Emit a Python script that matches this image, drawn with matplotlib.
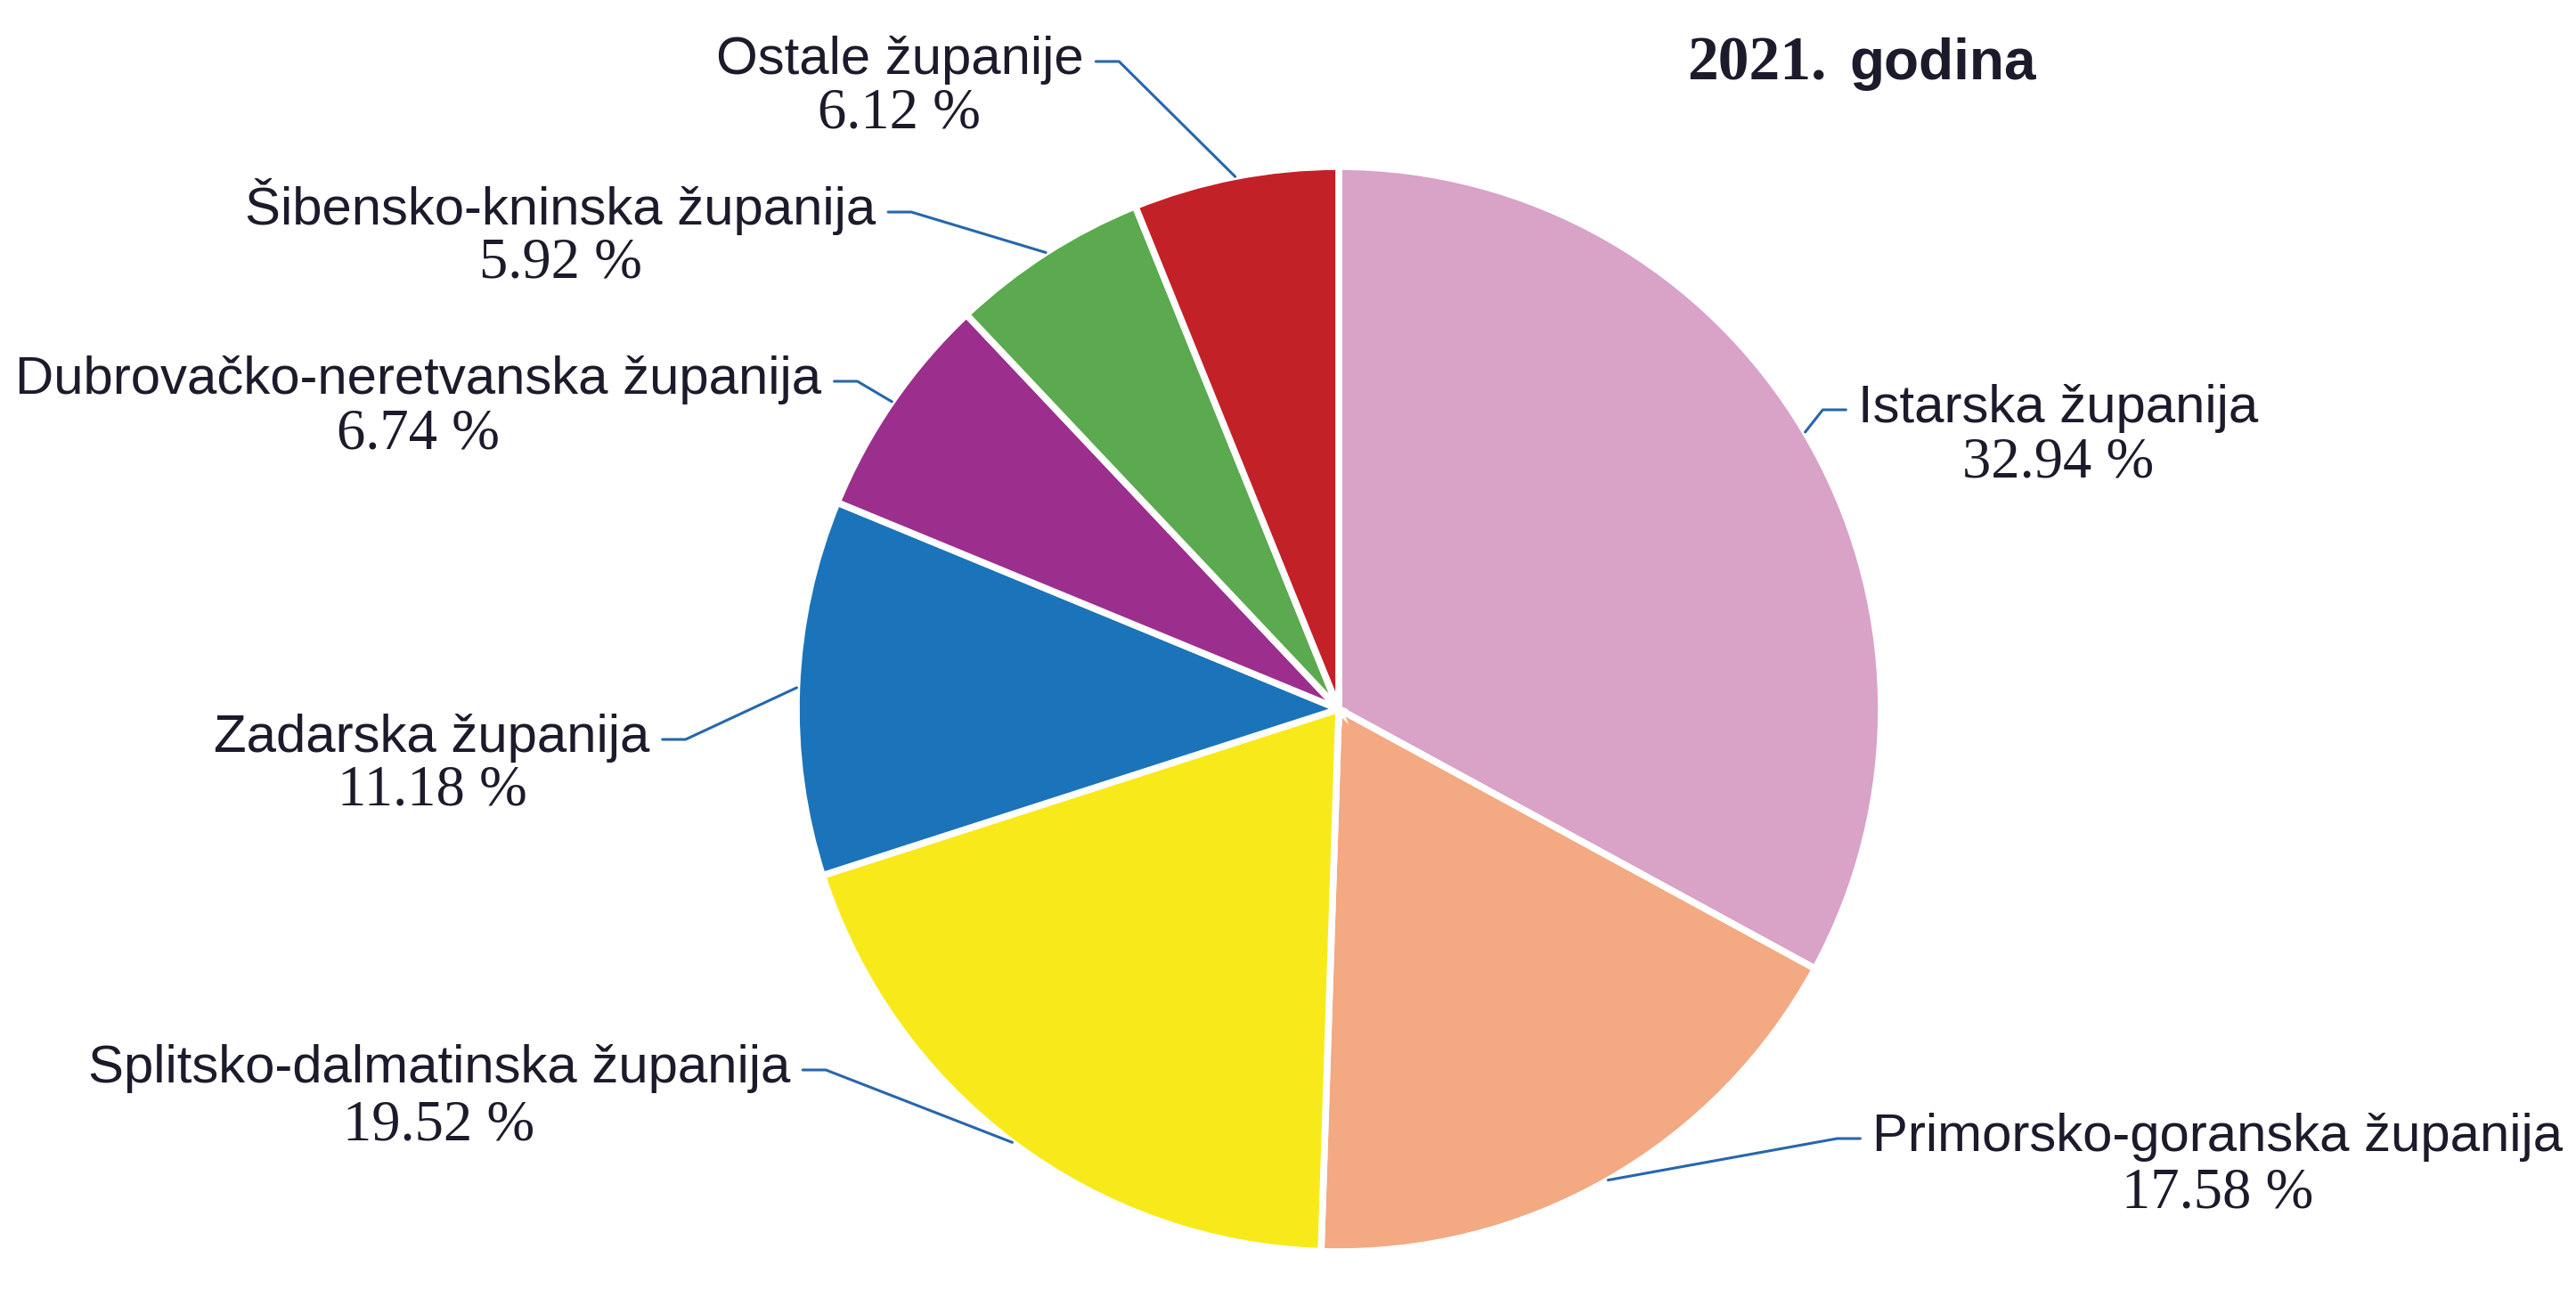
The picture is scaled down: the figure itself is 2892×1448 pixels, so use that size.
import matplotlib
matplotlib.use("Agg")
import matplotlib.pyplot as plt
import numpy as np

# ---- data ----
categories = [
    "Istarska županija",
    "Primorsko-goranska županija",
    "Splitsko-dalmatinska županija",
    "Zadarska županija",
    "Dubrovačko-neretvanska županija",
    "Šibensko-kninska županija",
    "Ostale županije",
]
shares = [32.94, 17.58, 19.52, 11.18, 6.74, 5.92, 6.12]
colors = ["#D9A2C7", "#F3A982", "#F8EA1A", "#1B74B9", "#9C2F8E", "#5BAA4F", "#C32128"]
title_year = "2021."
title_word = "godina"

# ---- layout (pixels, y measured from top) ----
W, H = 2892, 1448
# (name centre x, name baseline, percent baseline, side of pie)
label_layout = [
    (2311, 474, 536, "right"),
    (2490, 1292, 1355, "right"),
    (493, 1215, 1279, "left"),
    (485, 844, 903, "left"),
    (470, 442, 504, "left"),
    (629, 252, 312, "left"),
    (1010, 83, 143, "left"),
]
text_color = "#1b1b2b"
line_color = "#2866ad"

fig = plt.figure(figsize=(W / 100, H / 100), dpi=100)
fig.patch.set_facecolor("white")
ax = fig.add_axes([0, 0, 1, 1])

wedges, _ = ax.pie(
    shares,
    colors=colors,
    startangle=90,
    counterclock=False,
    center=(1503, H - 796),
    radius=609,
    wedgeprops=dict(edgecolor="white", linewidth=5.5, joinstyle="miter"),
)
ax.set_xlim(0, W)
ax.set_ylim(0, H)
ax.set_aspect("equal")
ax.axis("off")

fig.canvas.draw()
renderer = fig.canvas.get_renderer()

for w, name, share, (cx, nb, pb, side) in zip(wedges, categories, shares, label_layout):
    t = ax.text(cx, H - nb, name, ha="center", va="baseline", fontsize=43.2,
                family="Liberation Sans", color=text_color)
    ax.text(cx, H - pb, f"{share:.2f} %", ha="center", va="baseline", fontsize=46.5,
            family="Liberation Serif", color=text_color)
    bb = t.get_window_extent(renderer)
    ly = H - nb + 14
    if side == "left":
        x0 = bb.x1 + 14
        x1 = x0 + 26
    else:
        x0 = bb.x0 - 14
        x1 = x0 - 26
    th = np.deg2rad((w.theta1 + w.theta2) / 2)
    ex = w.center[0] + w.r * np.cos(th)
    ey = w.center[1] + w.r * np.sin(th)
    ax.plot([x0, x1, ex], [ly, ly, ey], color=line_color, lw=2.2,
            solid_capstyle="round", solid_joinstyle="round")

ax.text(1894, H - 89, title_year, ha="left", va="baseline", fontsize=50,
        family="Liberation Serif", weight="bold", color=text_color)
ax.text(2076, H - 89, title_word, ha="left", va="baseline", fontsize=46,
        family="Liberation Sans", weight="bold", color=text_color)

fig.savefig("out.png", dpi=100, facecolor="white")
